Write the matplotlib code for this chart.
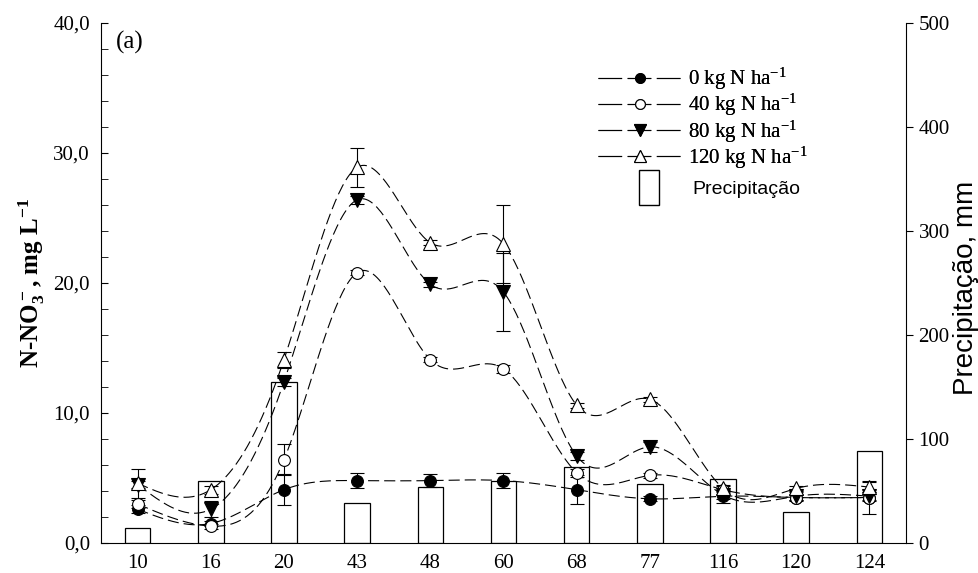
import numpy as np
import matplotlib
matplotlib.use("Agg")
import matplotlib.pyplot as plt
from matplotlib.lines import Line2D
from matplotlib.patches import Rectangle
from matplotlib.legend_handler import HandlerPatch
from matplotlib.ticker import FuncFormatter, MultipleLocator

# Dias de amostragem (eixo x categórico)
days = [10, 16, 20, 43, 48, 60, 68, 77, 116, 120, 124]

# Precipitação, mm (eixo direito)
precip = [14, 60, 155, 38, 54, 60, 73, 57, 62, 30, 88]

# N-NO3 (mg/L) por dose de N
n0 = [2.6, 1.5, 4.1, 4.8, 4.8, 4.8, 4.1, 3.4, 3.6, 3.5, 3.5]
n40 = [3.0, 1.3, 6.4, 20.8, 14.1, 13.4, 5.4, 5.2, 4.1, 3.5, 3.5]
n80 = [4.5, 2.6, 12.4, 26.4, 19.9, 19.3, 6.7, 7.4, 3.7, 3.6, 3.6]
n120 = [4.6, 4.1, 14.1, 28.9, 23.1, 23.0, 10.6, 11.05, 4.2, 4.2, 4.3]

# erro padrão
e0 = [0.3, 0.2, 1.2, 0.6, 0.5, 0.6, 1.1, 0.2, 0.5, 0.3, 1.3]
e40 = [0.3, 0.2, 1.2, 0.2, 0.2, 0.3, 0.3, 0.2, 0.3, 0.2, 0.3]
e80 = [0.3, 0.6, 0.3, 0.3, 0.2, 3.0, 0.3, 0.4, 0.3, 0.3, 0.3]
e120 = [1.1, 0.3, 0.6, 1.5, 0.2, 3.0, 0.2, 0.2, 0.3, 0.2, 0.4]

labels = [
    "0 kg N ha$^{-1}$",
    "40 kg N ha$^{-1}$",
    "80 kg N ha$^{-1}$",
    "120 kg N ha$^{-1}$",
]

plt.rcParams["font.family"] = "Liberation Serif"
plt.rcParams["mathtext.fontset"] = "custom"
plt.rcParams["mathtext.rm"] = "Liberation Serif"
plt.rcParams["mathtext.bf"] = "Liberation Serif:bold"
plt.rcParams["mathtext.default"] = "regular"
plt.rcParams["lines.scale_dashes"] = False


def smooth(y, pts=40):
    # spline cúbica natural (curva suavizada como no SigmaPlot)
    y = np.asarray(y, dtype=float)
    n = len(y)
    A = np.zeros((n, n))
    b = np.zeros(n)
    A[0, 0] = A[-1, -1] = 1
    for i in range(1, n - 1):
        A[i, i - 1], A[i, i], A[i, i + 1] = 1, 4, 1
        b[i] = 6 * (y[i + 1] - 2 * y[i] + y[i - 1])
    M = np.linalg.solve(A, b)
    xs = np.linspace(0, n - 1, (n - 1) * pts + 1)
    i = np.minimum(xs.astype(int), n - 2)
    t = xs - i
    ys = (M[i] * (1 - t) ** 3 + M[i + 1] * t**3) / 6 \
        + (y[i] - M[i] / 6) * (1 - t) + (y[i + 1] - M[i + 1] / 6) * t
    return xs, ys


fig = plt.figure(figsize=(9.79, 5.73), dpi=100)
ax = fig.add_axes([101 / 979, 1 - 543 / 573, 805 / 979, 520 / 573])
ax2 = ax.twinx()

x = np.arange(len(days))

# barras de precipitação
ax2.bar(x, precip, width=0.35, facecolor="white", edgecolor="black", linewidth=0.9)
ax2.set_ylim(0, 500)
ax2.yaxis.set_major_locator(MultipleLocator(100))
ax2.tick_params(axis="y", direction="out", length=5, labelsize=15, pad=4)
for s in ["top", "left", "bottom"]:
    ax2.spines[s].set_visible(False)

# séries de N-NO3
series = [n0, n40, n80, n120]
errs = [e0, e40, e80, e120]
markers = ["o", "o", "v", "^"]
faces = ["black", "white", "black", "white"]
sizes = [8.5, 8.5, 9.5, 9.5]

for ys, er, mk, fc, ms in zip(series, errs, markers, faces, sizes):
    xs, ss = smooth(ys)
    ax.plot(xs, ss, color="black", linewidth=0.8, dashes=(8, 3.6), zorder=2)
    ax.errorbar(x, ys, yerr=er, fmt="none", ecolor="black", elinewidth=0.8,
                capsize=5, capthick=0.8, zorder=3)
    ax.plot(x, ys, linestyle="none", marker=mk, markersize=ms,
            markerfacecolor=fc, markeredgecolor="black", markeredgewidth=0.8, zorder=4)

ax.set_zorder(ax2.get_zorder() + 1)
ax.patch.set_visible(False)

ax.set_xlim(-0.5, len(days) - 0.5)
ax.set_ylim(0, 40)
ax.set_xticks(x)
ax.set_xticklabels([str(d) for d in days])
ax.yaxis.set_major_locator(MultipleLocator(10))
ax.yaxis.set_minor_locator(MultipleLocator(2))
ax.yaxis.set_major_formatter(FuncFormatter(lambda v, p: f"{v:.1f}".replace(".", ",")))
ax.tick_params(axis="y", which="both", direction="in", length=5, labelsize=15, pad=8)
ax.tick_params(axis="x", length=0, labelsize=15, pad=8)
ax.spines["top"].set_visible(False)
ax.spines["right"].set_visible(False)

ax.text(0.018, 0.985, "(a)", transform=ax.transAxes, fontsize=18, ha="left", va="top")

fig.text(32 / 979, 1 - 283 / 573, "N-NO$_3^-$, mg L$^{-1}$", rotation=90,
         ha="center", va="center", fontsize=18, fontweight="bold")
fig.text(966 / 979, 1 - 288 / 573, "Precipitação, mm", rotation=90,
         ha="center", va="center", fontsize=20, family="Liberation Sans")

# legenda das doses
handles = []
for mk, fc, ms in zip(markers, faces, [7, 7, 8, 8]):
    handles.append(Line2D([], [], color="black", linewidth=0.8, dashes=(17, 4),
                          marker=mk, markersize=ms, markerfacecolor=fc,
                          markeredgecolor="black", markeredgewidth=0.8))
leg = fig.legend(handles, labels, loc="upper left", bbox_to_anchor=(598 / 979, 1 - 66 / 573),
                 frameon=False, fontsize=15, handlelength=4, handletextpad=0.33,
                 labelspacing=0.0, borderpad=0, borderaxespad=0)


def tall_box(legend, orig_handle, xdescent, ydescent, width, height, fontsize):
    w, h = 14.4, 25.2
    return Rectangle((width / 2 - w / 2 - xdescent, height / 2 - h / 2 - ydescent), w, h,
                     facecolor="white", edgecolor="black", linewidth=0.9)


box = Rectangle((0, 0), 1, 1, facecolor="white", edgecolor="black")
leg2 = fig.legend([box], ["Precipitação"], loc="center left",
                  bbox_to_anchor=(610 / 979, 1 - 189 / 573), frameon=False,
                  prop={"family": "Liberation Sans", "size": 14}, handlelength=4,
                  handletextpad=0.26, borderpad=0, borderaxespad=0,
                  handler_map={Rectangle: HandlerPatch(patch_func=tall_box)})
fig.add_artist(leg)

fig.savefig("out.png", dpi=100)
